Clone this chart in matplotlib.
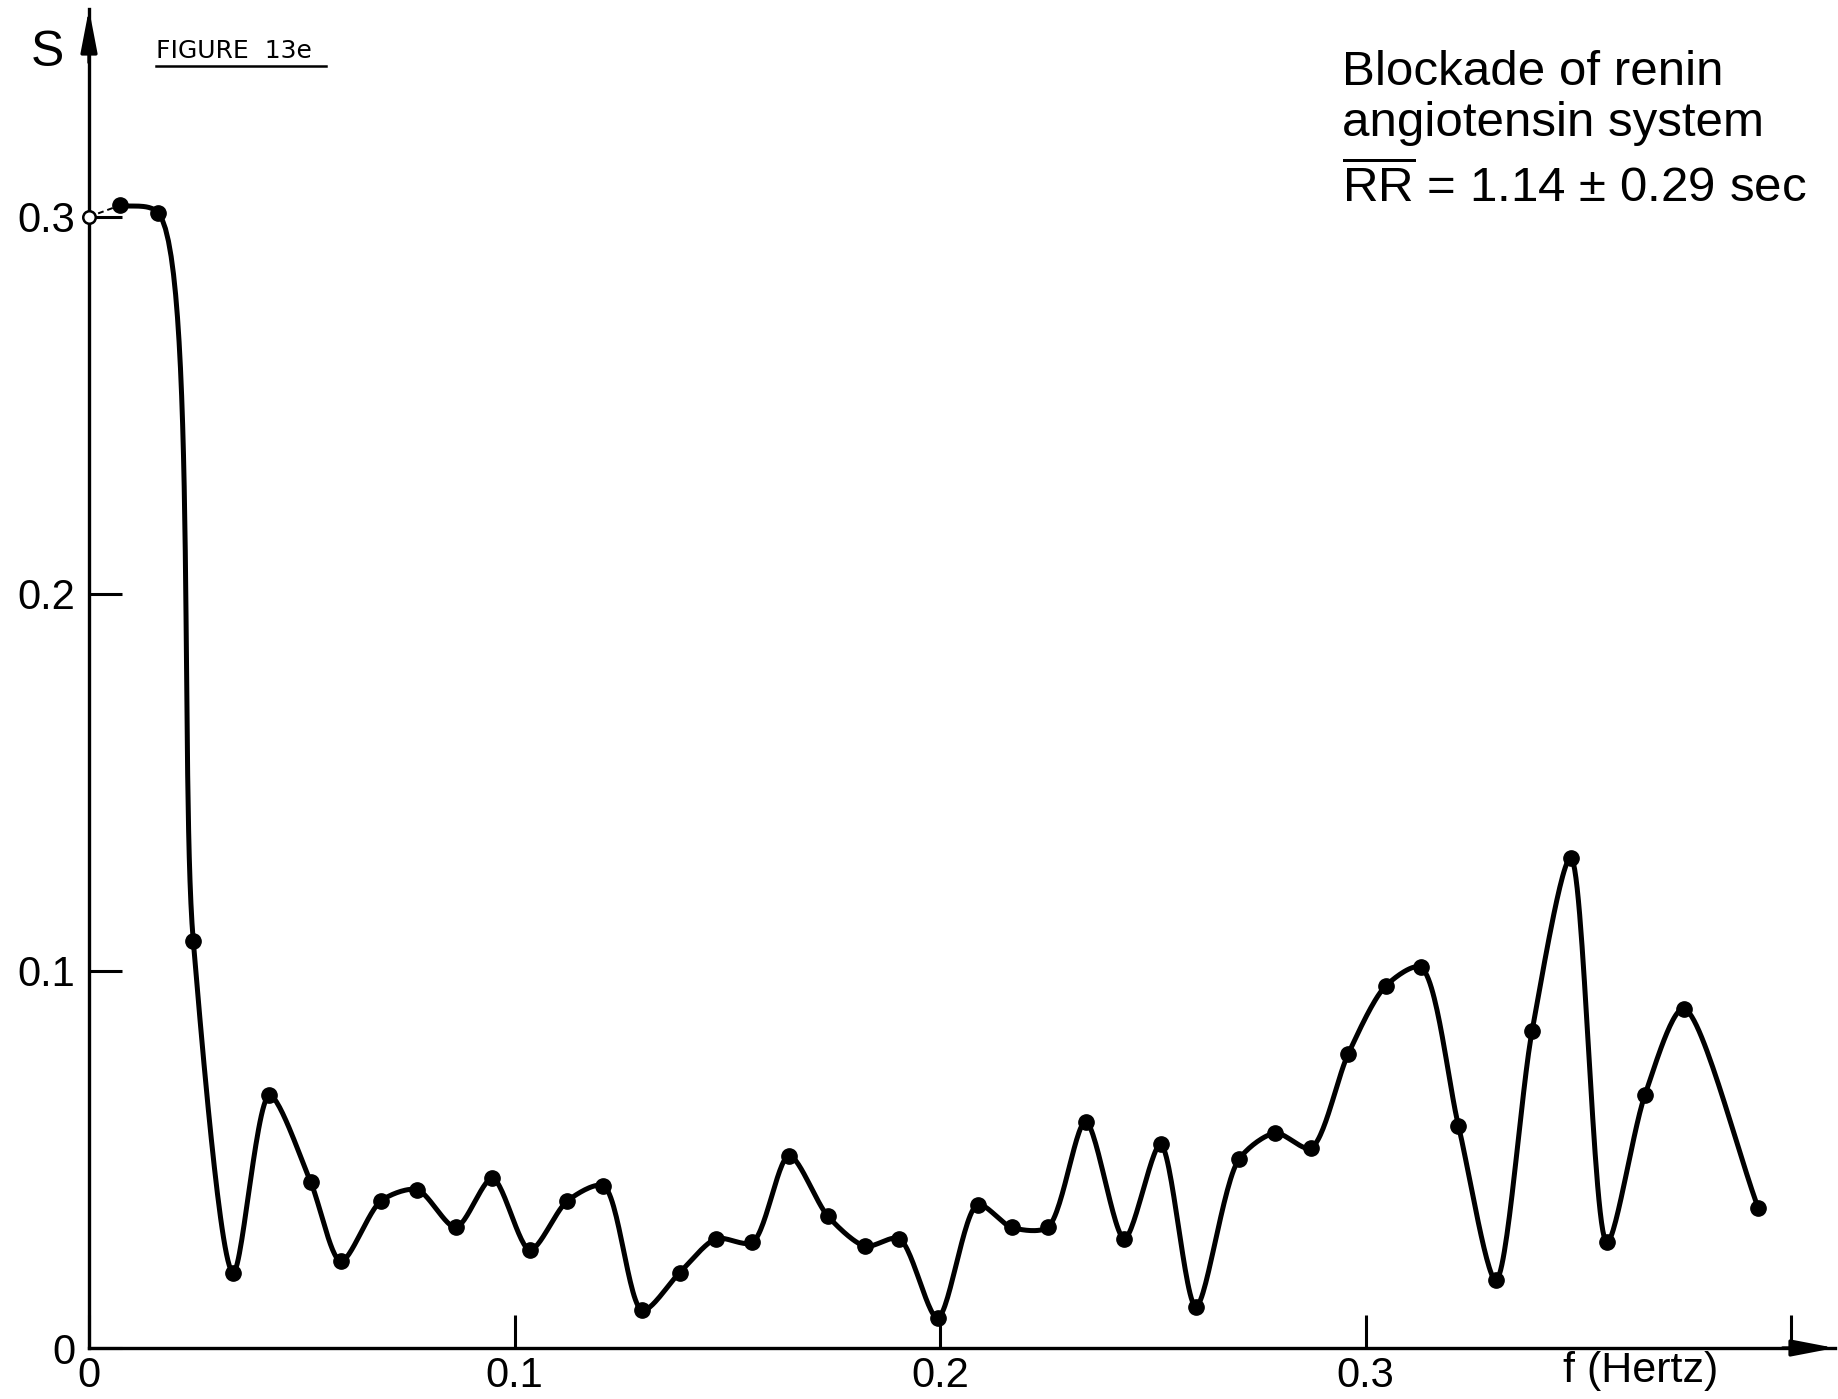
import numpy as np
import matplotlib
matplotlib.use("Agg")
import matplotlib.pyplot as plt
from matplotlib.lines import Line2D

# spectral density S vs frequency
freq = [0.0, 0.0072, 0.0163, 0.0245, 0.0339, 0.0424, 0.0521, 0.0592, 0.0686, 0.0771,
        0.0862, 0.0948, 0.1036, 0.1124, 0.1209, 0.1300, 0.1388, 0.1474, 0.1559, 0.1645,
        0.1736, 0.1824, 0.1904, 0.1994, 0.2088, 0.2168, 0.2253, 0.2342, 0.2433, 0.2518,
        0.2601, 0.2702, 0.2788, 0.2871, 0.2959, 0.3047, 0.3129, 0.3218, 0.3306, 0.3391,
        0.3482, 0.3567, 0.3656, 0.3747, 0.3923]
power = [0.300, 0.303, 0.301, 0.108, 0.020, 0.067, 0.044, 0.023, 0.039, 0.042,
         0.032, 0.045, 0.026, 0.039, 0.043, 0.010, 0.020, 0.029, 0.028, 0.051,
         0.035, 0.027, 0.029, 0.008, 0.038, 0.032, 0.032, 0.060, 0.029, 0.054,
         0.011, 0.050, 0.057, 0.053, 0.078, 0.096, 0.101, 0.059, 0.018, 0.084,
         0.130, 0.028, 0.067, 0.090, 0.037]

xticks = [0, 0.1, 0.2, 0.3, 0.4]
xtick_labels = ['0', '0.1', '0.2', '0.3', '']
yticks = [0, 0.1, 0.2, 0.3]
ytick_labels = ['0', '0.1', '0.2', '0.3']

FONT = 'Liberation Sans'
plt.rcParams['font.family'] = [FONT, 'DejaVu Sans']
plt.rcParams['mathtext.fontset'] = 'custom'
plt.rcParams['mathtext.rm'] = FONT

W, H = 1838, 1399
fig = plt.figure(figsize=(W / 100, H / 100), dpi=100)
ax = fig.add_axes([89 / W, 51 / H, (1835 - 89) / W, (1348 - 9) / H])
ax.set_xlim(0, 0.4103)
ax.set_ylim(0, 0.3551)

# px per data unit, used to smooth the curve in screen space
sx, sy = 4255.0, 3771.0


def smooth_curve(x, y, n=30, alpha=0.5, k=0.8):
    # centripetal catmull-rom as hermite segments, tangents damped by k
    pts = np.column_stack([np.asarray(x) * sx, np.asarray(y) * sy])
    P = np.vstack([2 * pts[0] - pts[1], pts, 2 * pts[-1] - pts[-2]])
    s = np.linspace(0, 1, n)[:, None]
    h00 = 2 * s**3 - 3 * s**2 + 1
    h10 = s**3 - 2 * s**2 + s
    h01 = -2 * s**3 + 3 * s**2
    h11 = s**3 - s**2
    out = []
    for i in range(1, len(P) - 2):
        p0, p1, p2, p3 = P[i - 1], P[i], P[i + 1], P[i + 2]
        d01 = np.linalg.norm(p1 - p0) ** alpha
        d12 = np.linalg.norm(p2 - p1) ** alpha
        d23 = np.linalg.norm(p3 - p2) ** alpha
        m1 = d12 * ((p1 - p0) / d01 - (p2 - p0) / (d01 + d12) + (p2 - p1) / d12)
        m2 = d12 * ((p2 - p1) / d12 - (p3 - p1) / (d12 + d23) + (p3 - p2) / d23)
        out.append(h00 * p1 + h10 * k * m1 + h01 * p2 + h11 * k * m2)
    c = np.vstack(out)
    return c[:, 0] / sx, c[:, 1] / sy


cx, cy = smooth_curve(freq[1:], power[1:])
ax.plot(cx, cy, color='black', lw=3.6, solid_capstyle='round',
        solid_joinstyle='round', zorder=3)
ax.plot(freq[:2], power[:2], color='black', lw=1.4, ls=(0, (3, 2)), zorder=3)
ax.plot(freq[1:], power[1:], 'o', color='black', ms=11, zorder=4)
ax.plot(freq[0], power[0], 'o', mfc='white', mec='black', mew=1.8, ms=9,
        zorder=4, clip_on=False)

# axes styled like the hand drawing
for s in ['top', 'right']:
    ax.spines[s].set_visible(False)
for s in ['left', 'bottom']:
    ax.spines[s].set_linewidth(2.4)
ax.set_xticks(xticks)
ax.set_xticklabels(xtick_labels)
ax.set_yticks(yticks)
ax.set_yticklabels(ytick_labels)
ax.tick_params(axis='both', direction='in', length=24, width=2.2, labelsize=30)
ax.tick_params(axis='x', pad=6)
ax.tick_params(axis='y', pad=10)

arrow = dict(arrowstyle='-|>,head_length=1.3,head_width=0.25', color='black',
             lw=2.4, mutation_scale=20, shrinkA=0, shrinkB=0)
ax.annotate('', xy=(0, 1), xytext=(0, 0.96), xycoords='axes fraction',
            arrowprops=arrow, annotation_clip=False)
ax.annotate('', xy=(1, 0), xytext=(0.97, 0), xycoords='axes fraction',
            arrowprops=arrow, annotation_clip=False)

ax.text(0.3647, -0.0175, 'f (Hertz)', transform=ax.get_xaxis_transform(),
        ha='center', va='center', fontsize=31)

fig.text(47 / W, 1 - 53 / H, 'S', ha='center', va='center', fontsize=36)
fig.text(156 / W, 1 - 58 / H, 'FIGURE  13e', ha='left', va='baseline',
         fontsize=18, family='DejaVu Sans')
fig.add_artist(Line2D([156 / W, 326 / W], [1 - 66 / H, 1 - 66 / H],
                      color='black', lw=1.8))

fig.text(1342 / W, 1 - 85 / H, 'Blockade of renin', ha='left',
         va='baseline', fontsize=35.5)
fig.text(1342 / W, 1 - 136 / H, 'angiotensin system', ha='left',
         va='baseline', fontsize=35.5)
fig.text(1342 / W, 1 - 202 / H, r'$\overline{\mathrm{RR}}$ = 1.14 ± 0.29 sec',
         ha='left', va='baseline', fontsize=35.5)

fig.savefig('out.png', dpi=100, facecolor='white')
